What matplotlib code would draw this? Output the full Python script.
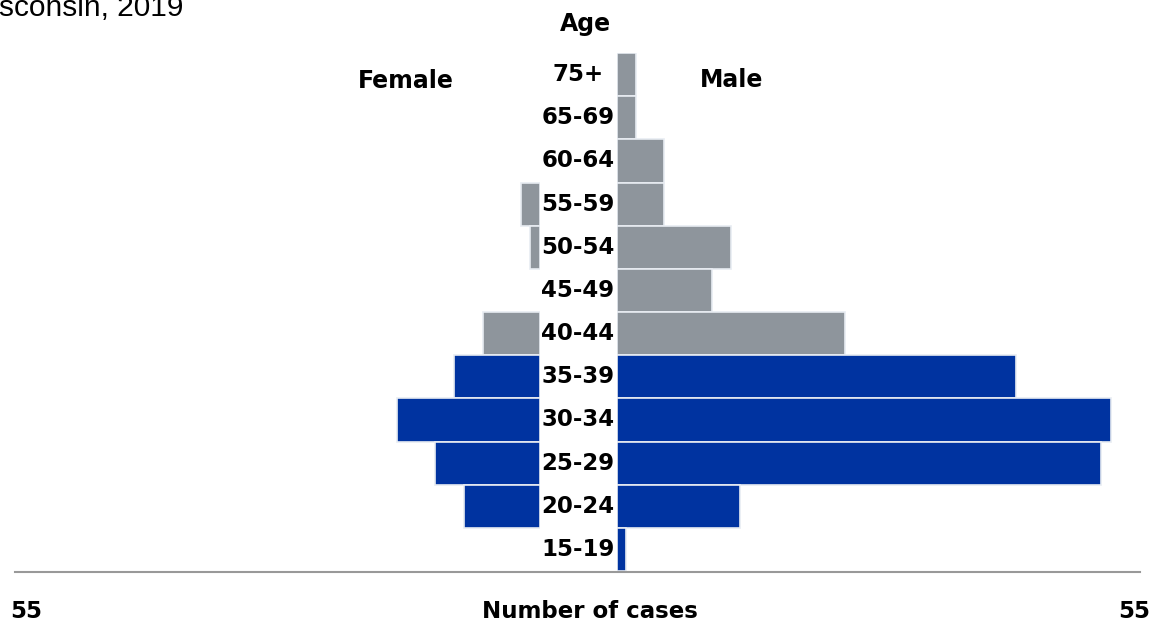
import matplotlib

matplotlib.use("Agg")
import matplotlib.pyplot as plt
from matplotlib.lines import Line2D
from matplotlib.transforms import blended_transform_factory

W, H = 1152, 623

age_groups = ["75+", "65-69", "60-64", "55-59", "50-54", "45-49",
              "40-44", "35-39", "30-34", "25-29", "20-24", "15-19"]
female_cases = [0, 0, 0, 2, 1, 0, 6, 9, 15, 11, 8, 0]
male_cases = [2, 2, 5, 5, 12, 10, 24, 42, 52, 51, 13, 1]
highlight = [False] * 7 + [True] * 5

BLUE = "#0033A0"
GRAY = "#8E959C"
colors = [BLUE if h else GRAY for h in highlight]

LABEL_FONT = ["DejaVu Sans"]
LABEL_SIZE = 16.5

fig = plt.figure(figsize=(W / 100, H / 100), dpi=100)


def px_box(x0, y0, x1, y1):
    return [x0 / W, 1 - y1 / H, (x1 - x0) / W, (y1 - y0) / H]


ax_f = fig.add_axes(px_box(17, 53, 539.5, 571))
ax_m = fig.add_axes(px_box(616.5, 53, 1139, 571))

ypos = list(range(len(age_groups)))
for ax, values in ((ax_f, female_cases), (ax_m, male_cases)):
    widths = [1.2 if v else 0 for v in values]
    ax.barh(ypos, values, height=1.0, color=colors, edgecolor="#E8ECF2", linewidth=widths)

ax_f.set_xlim(55, 0)
ax_m.set_xlim(0, 55)
for ax in (ax_f, ax_m):
    ax.set_ylim(len(age_groups) - 0.5, -0.5)
    ax.axis("off")

# age labels sit in the gap between the two halves
trans = blended_transform_factory(fig.transFigure, ax_m.transData)
for y, label in zip(ypos, age_groups):
    ax_m.text(578 / W, y, label, transform=trans, ha="center", va="center",
              fontsize=LABEL_SIZE, fontweight="bold", family=LABEL_FONT)

# baseline
fig.add_artist(Line2D([15 / W, 1140 / W], [1 - 571.5 / H, 1 - 571.5 / H],
                      transform=fig.transFigure, color="#999999", linewidth=1.5))

fig.text(585 / W, 1 - 24 / H, "Age", ha="center", va="center",
         fontsize=LABEL_SIZE + 0.5, fontweight="bold", family=LABEL_FONT)
fig.text(406 / W, 1 - 81 / H, "Female", ha="center", va="center",
         fontsize=LABEL_SIZE + 0.5, fontweight="bold", family=LABEL_FONT)
fig.text(732 / W, 1 - 80 / H, "Male", ha="center", va="center",
         fontsize=LABEL_SIZE + 0.5, fontweight="bold", family=LABEL_FONT)
fig.text(590 / W, 1 - 611 / H, "Number of cases", ha="center", va="center",
         fontsize=LABEL_SIZE, fontweight="bold", family=LABEL_FONT)
fig.text(10 / W, 1 - 611 / H, "55", ha="left", va="center",
         fontsize=LABEL_SIZE, fontweight="bold", family=LABEL_FONT)
fig.text(1150 / W, 1 - 611 / H, "55", ha="right", va="center",
         fontsize=LABEL_SIZE, fontweight="bold", family=LABEL_FONT)

# title cut off at the top-left corner of the original
fig.text(-1 / W, 1 - 16 / H, "sconsin, 2019", ha="left", va="baseline",
         fontsize=21.5, family=["Liberation Sans"])

fig.savefig("out.png", dpi=100)
